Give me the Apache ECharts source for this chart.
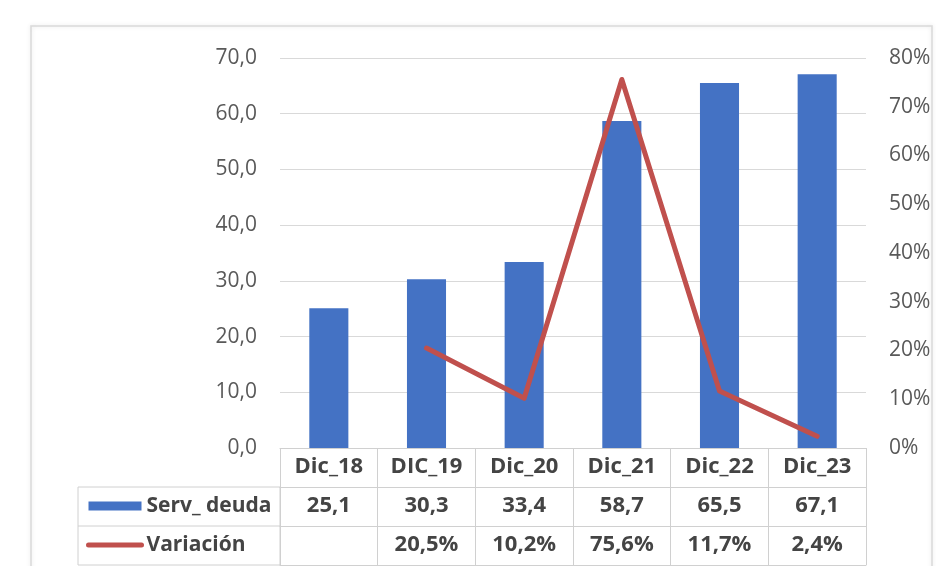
<!DOCTYPE html>
<html>
<head>
<meta charset="utf-8">
<script src="https://cdn.jsdelivr.net/npm/echarts@6/dist/echarts.min.js"></script>
<style>
  html, body { margin: 0; padding: 0; background: #ffffff; }
  #chart { width: 936px; height: 566px; }
</style>
</head>
<body>
<div id="chart"></div>
<script>
// Servicio de la deuda por periodo y su variación interanual
const categories = ['Dic_18', 'DIC_19', 'Dic_20', 'Dic_21', 'Dic_22', 'Dic_23'];
const servDeuda = [25.1, 30.3, 33.4, 58.7, 65.5, 67.1];
const variacion = [null, 20.5, 10.2, 75.6, 11.7, 2.4];
const leftAxis = { min: 0, max: 70, interval: 10 };
const rightAxis = { min: 0, max: 80, interval: 10 };

const FONT = '"Open Sans", "Liberation Sans", sans-serif';
const TEXT_GRAY = '#595959';
const TABLE_TEXT = '#444444';
const LINE_GRAY = '#D9D9D9';
const TABLE_LINE = '#D0D0D0';
const BAR_BLUE = '#4472C4';
const LINE_RED = '#C0504D';

const fmt1 = v => v.toFixed(1).replace('.', ',');
const fmtPct = v => (v == null ? '' : v.toFixed(1).replace('.', ',') + '%');

const ROW_H = 39;
const grid = { left: 280, right: 70, top: 58, bottom: 118 };

const chart = echarts.init(document.getElementById('chart'), null, { renderer: 'canvas' });

const tableLabel = {
  fontFamily: FONT,
  fontSize: 22,
  lineHeight: 26,
  fontWeight: 'bold',
  color: TABLE_TEXT,
  margin: 6
};

// one x axis per table row: the header holds the categories, the next
// rows carry the formatted values, the last one only closes the table
function tableAxis(data, offset, labelShow, ticks) {
  return {
    type: 'category',
    data: data,
    position: 'bottom',
    offset: offset,
    axisLine: { show: true, onZero: false, lineStyle: { color: TABLE_LINE, width: 1 } },
    axisTick: ticks
      ? { show: true, length: ROW_H * 3, lineStyle: { color: TABLE_LINE, width: 1 } }
      : { show: false },
    axisLabel: labelShow ? Object.assign({}, tableLabel) : { show: false }
  };
}

const option = {
  backgroundColor: '#ffffff',
  animation: false,
  grid: grid,
  legend: {
    orient: 'vertical',
    left: 81,
    top: 488,
    itemGap: 13,
    itemWidth: 53,
    itemHeight: 9,
    textStyle: {
      fontFamily: FONT,
      fontSize: 21,
      fontWeight: 'bold',
      color: TABLE_TEXT,
      lineHeight: 26
    },
    data: [
      { name: 'Serv_ deuda', icon: 'rect' },
      { name: 'Variación', itemStyle: { opacity: 0 }, lineStyle: { width: 5, color: LINE_RED } }
    ]
  },
  xAxis: [
    tableAxis(categories, 0, true, true),
    tableAxis(servDeuda.map(fmt1), ROW_H, true, false),
    tableAxis(variacion.map(fmtPct), ROW_H * 2, true, false),
    tableAxis(categories, ROW_H * 3, false, false)
  ],
  yAxis: [
    {
      type: 'value',
      min: leftAxis.min,
      max: leftAxis.max,
      interval: leftAxis.interval,
      axisLine: { show: false },
      axisTick: { show: false },
      splitLine: { show: true, lineStyle: { color: LINE_GRAY, width: 1 } },
      axisLabel: {
        margin: 23,
        fontFamily: FONT,
        fontSize: 21,
        color: TEXT_GRAY,
        padding: [5, 0, 0, 0],
        formatter: v => fmt1(v)
      }
    },
    {
      type: 'value',
      min: rightAxis.min,
      max: rightAxis.max,
      interval: rightAxis.interval,
      position: 'right',
      axisLine: { show: false },
      axisTick: { show: false },
      splitLine: { show: false },
      axisLabel: {
        margin: 23,
        fontFamily: FONT,
        fontSize: 21,
        color: TEXT_GRAY,
        padding: [5, 0, 0, 0],
        formatter: v => v + '%'
      }
    }
  ],
  series: [
    {
      name: 'Serv_ deuda',
      type: 'bar',
      xAxisIndex: 0,
      yAxisIndex: 0,
      data: servDeuda,
      barWidth: '40%',
      itemStyle: { color: BAR_BLUE }
    },
    {
      name: 'Variación',
      type: 'line',
      xAxisIndex: 0,
      yAxisIndex: 1,
      data: variacion.map(v => (v == null ? '-' : v)),
      symbol: 'none',
      lineStyle: { color: LINE_RED, width: 5, cap: 'round', join: 'round' },
      itemStyle: { color: LINE_RED },
      z: 3
    }
  ]
};

chart.setOption(option);

// Frame around the chart plus the legend column of the data table,
// placed from the grid's own pixel rectangle.
function drawFrame() {
  const gridRect = chart.getModel().getComponent('grid', 0).coordinateSystem.getRect();
  const tableTop = gridRect.y + gridRect.height;
  const colLeft = 78;
  const leftEdge = gridRect.x;
  chart.setOption({
    graphic: [
      {
        type: 'rect',
        silent: true,
        shape: { x: 31, y: 26, width: 901, height: 600 },
        style: { fill: 'none', stroke: '#D9D9D9', lineWidth: 1.5, shadowBlur: 4, shadowColor: 'rgba(0,0,0,0.12)' },
        z: -1
      },
      {
        type: 'rect',
        silent: true,
        shape: { x: colLeft, y: tableTop + ROW_H, width: leftEdge - colLeft, height: ROW_H * 2 },
        style: { fill: 'none', stroke: TABLE_LINE, lineWidth: 1 }
      },
      {
        type: 'line',
        silent: true,
        shape: { x1: colLeft, y1: tableTop + ROW_H * 2, x2: leftEdge, y2: tableTop + ROW_H * 2 },
        style: { stroke: TABLE_LINE, lineWidth: 1 }
      }
    ]
  });
}
drawFrame();
</script>
</body>
</html>
